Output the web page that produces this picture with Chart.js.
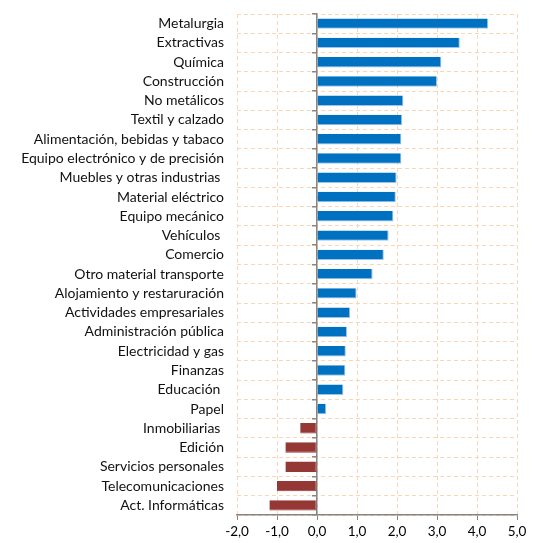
<!DOCTYPE html>
<html>
<head>
<meta charset="utf-8">
<script src="https://cdn.jsdelivr.net/npm/chart.js@4/dist/chart.umd.min.js"></script>
<style>
  body { margin: 0; background: #fff; }
</style>
</head>
<body>
<canvas id="myChart" width="543" height="543"></canvas>
<script>
// sectors, top to bottom
var sectores = ["Metalurgia", "Extractivas", "Química", "Construcción", "No metálicos",
  "Textil y calzado", "Alimentación, bebidas y tabaco", "Equipo electrónico y de precisión",
  "Muebles y otras industrias ", "Material eléctrico", "Equipo mecánico", "Vehículos ",
  "Comercio", "Otro material transporte", "Alojamiento y restaruración",
  "Actividades empresariales", "Administración pública", "Electricidad y gas", "Finanzas",
  "Educación ", "Papel", "Inmobiliarias ", "Edición", "Servicios personales",
  "Telecomunicaciones", "Act. Informáticas"];

var valores = [4.28, 3.57, 3.11, 3.0, 2.16, 2.13, 2.11, 2.11, 1.99, 1.97, 1.91, 1.79,
  1.67, 1.39, 0.99, 0.83, 0.75, 0.72, 0.71, 0.66, 0.23, -0.42, -0.79, -0.79, -1.0, -1.19];

var xTicks = [-2, -1, 0, 1, 2, 3, 4, 5];

var azul = "#0070c0";
var rojo = "#953735";
var naranja = "#fcd5b4";
var gris = "#868686";

var ctx = document.getElementById('myChart').getContext('2d');
var chart = new Chart(ctx, {
  type: 'bar',
  data: {
    labels: sectores,
    datasets: [{
      data: valores,
      backgroundColor: function(c) { return c.raw < 0 ? rojo : azul; },
      borderColor: function(c) { return c.raw < 0 ? rojo : "#9cc3e8"; },
      borderWidth: { top: 0, left: 0, right: 1, bottom: 1 },
      borderSkipped: false,
      barPercentage: 0.54,
      categoryPercentage: 1
    }]
  },
  options: {
    indexAxis: 'y',
    responsive: false,
    animation: false,
    layout: { padding: { top: 14, right: 26, left: 0, bottom: 0 } },
    plugins: { legend: { display: false }, tooltip: { enabled: false } },
    scales: {
      x: {
        min: -2,
        max: 5,
        afterBuildTicks: function(scale) {
          scale.ticks = xTicks.map(function(v) { return { value: v }; });
        },
        afterFit: function(scale) { scale.height = 28; },
        grid: { color: naranja, lineWidth: 1, tickColor: gris, tickLength: 5 },
        border: { color: gris, width: 1.5, dash: [4, 3] },
        ticks: {
          padding: 4,
          color: "#000",
          font: { family: "Lato", size: 13.5 },
          callback: function(v) { return v.toFixed(1).replace('.', ','); }
        }
      },
      y: {
        afterFit: function(scale) {
          scale.width = 237;
          scale.paddingTop = 0;
          scale.paddingBottom = 0;
        },
        grid: { color: naranja, lineWidth: 1, drawTicks: false },
        border: { display: false, dash: [4, 3] },
        ticks: {
          padding: 13,
          color: "#111",
          font: { family: "Lato", size: 14 },
          autoSkip: false
        }
      },
      cero: {
        type: 'category',
        axis: 'y',
        labels: sectores,
        position: { x: 0 },
        offset: true,
        grid: { drawOnChartArea: false, color: gris, tickLength: 4, offset: true, lineWidth: 1.5 },
        border: { color: gris, width: 1.5 },
        ticks: { display: false }
      }
    }
  }
});
</script>
</body>
</html>
